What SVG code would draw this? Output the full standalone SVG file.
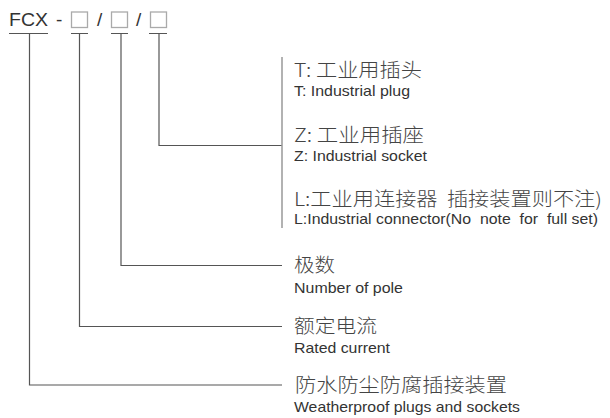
<svg xmlns="http://www.w3.org/2000/svg" width="610" height="418" viewBox="0 0 610 418">
<style>
.t{font-family:"Liberation Sans","Noto Sans CJK SC",sans-serif;fill:#333}
.cn{font-family:"Noto Sans CJK SC","Liberation Sans",sans-serif;font-size:19px;font-weight:300;fill:#444}
.en{font-family:"Liberation Sans",Arial,sans-serif;font-size:15px;fill:#333}
.ln{stroke:#555;stroke-width:1.2;fill:none}
.br{stroke:#999;stroke-width:1.5;fill:none}
.bx{stroke:#aaa;stroke-width:1.3;fill:none}
</style>
<rect width="610" height="418" fill="#fff"/>
<g id="code">
<text class="t" x="9" y="26" font-size="19" textLength="39" lengthAdjust="spacingAndGlyphs">FCX</text>
<text class="t" x="56" y="26" font-size="19">-</text>
<rect class="bx" x="71.5" y="12" width="16" height="15.5"/>
<text class="t" x="97" y="26" font-size="19">/</text>
<rect class="bx" x="111.5" y="12" width="16" height="15.5"/>
<text class="t" x="136" y="26" font-size="19">/</text>
<rect class="bx" x="150.5" y="12" width="16" height="15.5"/>
</g>
<g id="connectors">
<path class="ln" d="M9 33.5H48M71 33.5H88M111 33.5H128M149 33.5H167"/>
<path class="ln" d="M29.5 33.5V385H282"/>
<path class="ln" d="M79.5 33.5V326.5H282"/>
<path class="ln" d="M121 33.5V265.5H282"/>
<path class="ln" d="M159 33.5V145.5H282"/>
<path class="br" d="M282 57V228"/>
</g>
<g id="type-t">
<text class="cn" x="294" y="77" textLength="128" lengthAdjust="spacingAndGlyphs">T: 工业用插头</text>
<text class="en" x="294" y="96" textLength="116" lengthAdjust="spacingAndGlyphs">T: Industrial plug</text>
</g>
<g id="type-z">
<text class="cn" x="294" y="142" textLength="130" lengthAdjust="spacingAndGlyphs">Z: 工业用插座</text>
<text class="en" x="294" y="161" textLength="133" lengthAdjust="spacingAndGlyphs">Z: Industrial socket</text>
</g>
<g id="type-l">
<text class="cn" x="294" y="206" textLength="308" lengthAdjust="spacingAndGlyphs" xml:space="preserve">L:工业用连接器  插接装置则不注)</text>
<text class="en" x="294" y="224" textLength="304" lengthAdjust="spacingAndGlyphs" xml:space="preserve">L:Industrial connector(No  note  for  full set)</text>
</g>
<g id="poles">
<text class="cn" x="294" y="272" textLength="41" lengthAdjust="spacingAndGlyphs">极数</text>
<text class="en" x="294" y="292.5" textLength="109" lengthAdjust="spacingAndGlyphs">Number of pole</text>
</g>
<g id="current">
<text class="cn" x="294" y="333" textLength="83" lengthAdjust="spacingAndGlyphs">额定电流</text>
<text class="en" x="294" y="353" textLength="96" lengthAdjust="spacingAndGlyphs">Rated current</text>
</g>
<g id="device">
<text class="cn" x="295" y="392" textLength="212" lengthAdjust="spacingAndGlyphs">防水防尘防腐插接装置</text>
<text class="en" x="294" y="411.5" textLength="226" lengthAdjust="spacingAndGlyphs">Weatherproof plugs and sockets</text>
</g>
</svg>
